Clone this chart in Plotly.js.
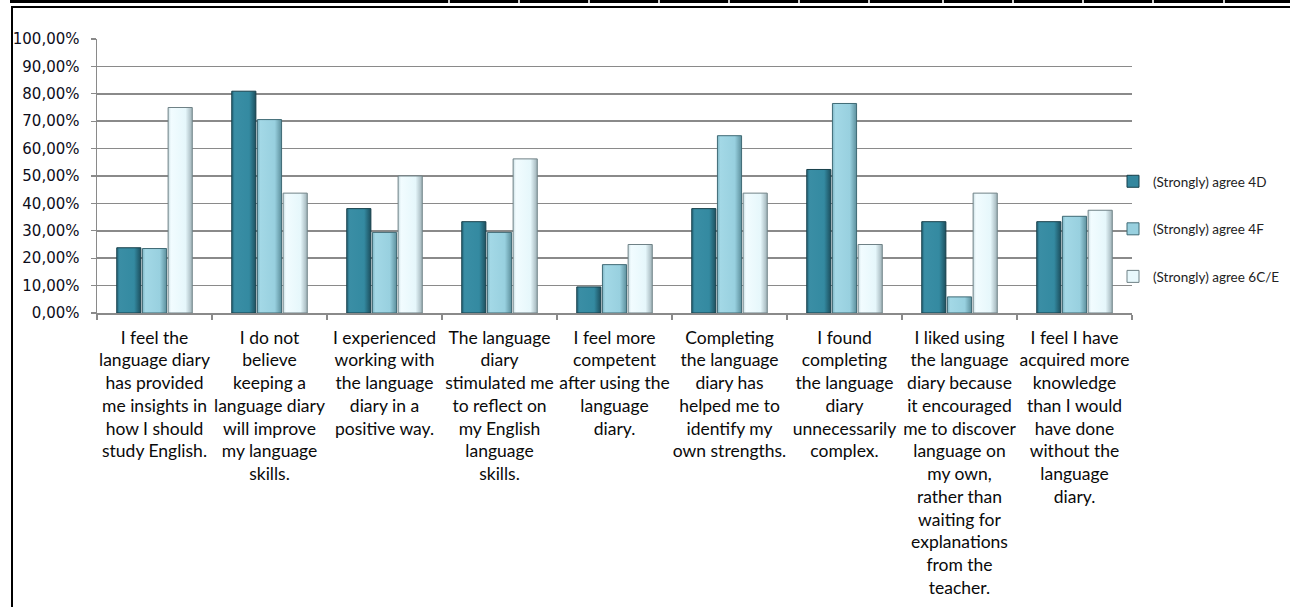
<!DOCTYPE html>
<html>
<head>
<meta charset="utf-8">
<script src="https://cdn.plot.ly/plotly-3.0.1.min.js"></script>
<style>
  html, body { margin: 0; padding: 0; background: #fff; }
  #wrap { position: relative; width: 1290px; height: 607px; overflow: hidden; }
  #chart { position: absolute; left: 0; top: 0; width: 1290px; height: 607px; }
  .frame { position: absolute; background: #000; }
  .sep { position: absolute; top: 0; width: 1.5px; height: 3px; background: #cfcfcf; }
</style>
</head>
<body>
<div id="wrap">
  <div id="chart"></div>
  <div class="frame" style="left:10px; top:0; width:1280px; height:3.3px;"></div>
  <div class="frame" style="left:11px; top:6px; width:1279px; height:2px;"></div>
  <div class="frame" style="left:11px; top:6px; width:2.4px; height:601px;"></div>
  <div id="seps"></div>
</div>
<script>
// ---- data ----
const categories = [
  "I feel the<br>language diary<br>has provided<br>me insights in<br>how I should<br>study English.",
  "I do not<br>believe<br>keeping a<br>language diary<br>will improve<br>my language<br>skills.",
  "I experienced<br>working with<br>the language<br>diary in a<br>positive way.",
  "The language<br>diary<br>stimulated me<br>to reflect on<br>my English<br>language<br>skills.",
  "I feel more<br>competent<br>after using the<br>language<br>diary.",
  "Completing<br>the language<br>diary has<br>helped me to<br>identify my<br>own strengths.",
  "I found<br>completing<br>the language<br>diary<br>unnecessarily<br>complex.",
  "I liked using<br>the language<br>diary because<br>it encouraged<br>me to discover<br>language on<br>my own,<br>rather than<br>waiting for<br>explanations<br>from the<br>teacher.",
  "I feel I have<br>acquired more<br>knowledge<br>than I would<br>have done<br>without the<br>language<br>diary."
];
const seriesNames = ["(Strongly) agree 4D", "(Strongly) agree 4F", "(Strongly) agree 6C/E"];
const agree4D  = [23.81, 80.95, 38.10, 33.33, 9.52, 38.10, 52.38, 33.33, 33.33];
const agree4F  = [23.53, 70.59, 29.41, 29.41, 17.65, 64.71, 76.47, 5.88, 35.29];
const agree6CE = [75.00, 43.75, 50.00, 56.25, 25.00, 43.75, 25.00, 43.75, 37.50];
const yTicks = [0, 10, 20, 30, 40, 50, 60, 70, 80, 90, 100];

// decorative separators in the top band
const sepX = [448, 518, 588, 658, 728, 798, 868, 942, 1012, 1082, 1152, 1223];
const sepHost = document.getElementById('seps');
sepX.forEach(x => { const d = document.createElement('div'); d.className = 'sep'; d.style.left = x + 'px'; sepHost.appendChild(d); });

const fills = ['#34879e', '#98d0df', '#e8f8fc'];
const edges = ['#173f4a', '#3f6a75', '#6f8186'];
// gradient stops (left edge, body, right shade) for a bevelled look
const grads = [
  ['#24667a', '#3a8ea5', '#348aa1', '#1c4f5e'],
  ['#7fb6c5', '#a3d8e6', '#98d0df', '#5d909d'],
  ['#c9dde2', '#f2fcff', '#e6f7fb', '#9fb2b8']
];
const seriesVals = [agree4D, agree4F, agree6CE];

const traces = seriesVals.map((vals, i) => ({
  type: 'bar',
  name: seriesNames[i],
  x: categories,
  y: vals.map(v => v / 100),
  legendgroup: 'g' + i,
  marker: { color: fills[i], line: { color: edges[i], width: 1 } },
  hoverinfo: 'skip'
}));

const layout = {
  width: 1290, height: 607,
  margin: { l: 97, r: 158, t: 39, b: 294, pad: 0, autoexpand: false },
  paper_bgcolor: 'rgba(0,0,0,0)', plot_bgcolor: '#fff',
  separators: ', ',
  barmode: 'group', bargap: 0.33, bargroupgap: 0.06,
  showlegend: true,
  legend: {
    xref: 'container', yref: 'container',
    x: 1113 / 1290, y: 1 - 166 / 607, xanchor: 'left', yanchor: 'top',
    font: { family: 'Lato, sans-serif', size: 13.5, color: '#222' },
    tracegroupgap: 27, itemwidth: 30, bgcolor: 'rgba(0,0,0,0)'
  },
  xaxis: {
    type: 'category',
    showline: true, linecolor: '#8a8a8a', linewidth: 1.5,
    ticks: 'outside', tickson: 'boundaries', ticklen: 5, tickcolor: '#8a8a8a', tickwidth: 1.2,
    tickfont: { family: 'Lato, sans-serif', size: 17.5, color: '#0a0a0a' },
    tickangle: 0, ticklabelstandoff: 8,
    showgrid: false, zeroline: false, automargin: false
  },
  yaxis: {
    range: [0, 1], tickvals: yTicks.map(v => v / 100), tickformat: '.2%',
    showline: true, linecolor: '#8a8a8a', linewidth: 1.5,
    ticks: 'outside', ticklen: 5, tickcolor: '#8a8a8a', tickwidth: 1.2,
    showgrid: true, gridcolor: '#8a8a8a', gridwidth: 1.5,
    zeroline: false,
    tickfont: { family: 'DejaVu Sans, sans-serif', size: 15, color: '#0d0d1a' },
    ticklabelstandoff: 8, automargin: false
  }
};

Plotly.newPlot('chart', traces, layout, { displayModeBar: false, staticPlot: true }).then(gd => {
  // add horizontal gradients to bar fills for a bevelled appearance
  const svg = gd.querySelector('svg.main-svg');
  const NS = 'http://www.w3.org/2000/svg';
  let defs = svg.querySelector('defs');
  if (!defs) { defs = document.createElementNS(NS, 'defs'); svg.insertBefore(defs, svg.firstChild); }
  grads.forEach((g, i) => {
    const lg = document.createElementNS(NS, 'linearGradient');
    lg.setAttribute('id', 'bevel' + i);
    lg.setAttribute('x1', '0'); lg.setAttribute('x2', '1'); lg.setAttribute('y1', '0'); lg.setAttribute('y2', '0');
    [[0, g[0]], [0.12, g[1]], [0.72, g[2]], [1, g[3]]].forEach(([o, c]) => {
      const s = document.createElementNS(NS, 'stop');
      s.setAttribute('offset', o); s.setAttribute('stop-color', c);
      lg.appendChild(s);
    });
    defs.appendChild(lg);
  });
  gd.querySelectorAll('.barlayer .trace').forEach((tr, i) => {
    tr.querySelectorAll('path').forEach(p => { p.style.fill = 'url(#bevel' + i + ')'; });
  });
});
</script>
</body>
</html>
